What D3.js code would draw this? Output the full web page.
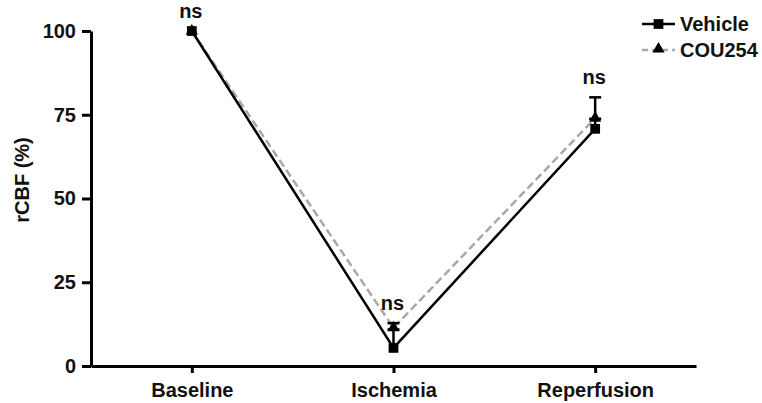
<!DOCTYPE html>
<html lang="en">
<head>
    <meta charset="UTF-8"/>
    <title>rCBF</title>
    <script src="https://d3js.org/d3.v7.min.js"></script>
    <style>
        body { margin: 0; background: #fff; }
        text { font-family: "Liberation Sans", Arial, sans-serif; font-weight: bold; }
    </style>
</head>
<body>
    <script>
        var categories = ["Baseline", "Ischemia", "Reperfusion"];
        var vehicle = [100, 5.4, 70.8];
        var vehicleErr = [0, 5.5, 3];
        var cou254 = [100, 11.4, 74];
        var cou254Err = [0, 1.4, 6.2];
        var sigLabels = ["ns", "ns", "ns"];
        var yTicks = [0, 25, 50, 75, 100];

        var w = 762;
        var h = 403;
        var plotLeft = 91, plotRight = 696, plotTop = 31, plotBottom = 366;
        var fontSize = "20px";

        var svg = d3.select("body")
            .append("svg")
            .attr("width", w)
            .attr("height", h);

        var xScale = d3.scalePoint()
            .domain(categories)
            .range([plotLeft, plotRight])
            .padding(0.5);

        var yScale = d3.scaleLinear()
            .domain([0, 100])
            .range([plotBottom, plotTop]);

        // axes
        svg.append("g")
            .attr("transform", "translate(" + plotLeft + ",0)")
            .call(d3.axisLeft(yScale).tickValues(yTicks).tickSize(9).tickSizeOuter(0).tickPadding(6));

        svg.append("g")
            .attr("transform", "translate(0," + plotBottom + ")")
            .call(d3.axisBottom(xScale).tickSize(7).tickSizeOuter(0).tickPadding(10));

        svg.selectAll(".domain, .tick line")
            .attr("stroke", "#000")
            .attr("stroke-width", 3);
        svg.selectAll(".tick text")
            .attr("font-size", fontSize)
            .attr("font-family", "'Liberation Sans', Arial, sans-serif")
            .attr("font-weight", "bold")
            .attr("fill", "#111");

        // y label
        svg.append("text")
            .attr("text-anchor", "middle")
            .attr("transform", "translate(29,180) rotate(-90)")
            .attr("font-size", fontSize)
            .attr("fill", "#111")
            .text("rCBF (%)");

        var line = d3.line()
            .x(function(d, i) { return xScale(categories[i]); })
            .y(function(d) { return yScale(d); });

        // COU254 dashed line
        svg.append("path")
            .datum(cou254)
            .attr("d", line)
            .attr("fill", "none")
            .attr("stroke", "#a8a8a8")
            .attr("stroke-width", 2.5)
            .attr("stroke-dasharray", "8,4");

        // Vehicle solid line
        svg.append("path")
            .datum(vehicle)
            .attr("d", line)
            .attr("fill", "none")
            .attr("stroke", "#000")
            .attr("stroke-width", 2.5);

        // error bars (upward)
        function errorBars(values, errs) {
            var g = svg.append("g");
            values.forEach(function(v, i) {
                if (!errs[i]) return;
                var x = xScale(categories[i]);
                g.append("line")
                    .attr("x1", x).attr("x2", x)
                    .attr("y1", yScale(v)).attr("y2", yScale(v + errs[i]))
                    .attr("stroke", "#000").attr("stroke-width", 2.5);
                g.append("line")
                    .attr("x1", x - 6).attr("x2", x + 6)
                    .attr("y1", yScale(v + errs[i])).attr("y2", yScale(v + errs[i]))
                    .attr("stroke", "#000").attr("stroke-width", 2.5);
            });
        }
        errorBars(vehicle, vehicleErr);
        errorBars(cou254, cou254Err);

        // markers
        var square = d3.symbol().type(d3.symbolSquare).size(95);
        var triangle = d3.symbol().type(d3.symbolTriangle).size(65);

        svg.selectAll(".sq")
            .data(vehicle)
            .enter()
            .append("path")
            .attr("class", "sq")
            .attr("d", square)
            .attr("transform", function(d, i) { return "translate(" + xScale(categories[i]) + "," + yScale(d) + ")"; })
            .attr("fill", "#000");

        svg.selectAll(".tri")
            .data(cou254)
            .enter()
            .append("path")
            .attr("class", "tri")
            .attr("d", triangle)
            .attr("transform", function(d, i) { return "translate(" + xScale(categories[i]) + "," + yScale(d) + ")"; })
            .attr("fill", "#000");

        // significance labels
        svg.selectAll(".sig")
            .data(sigLabels)
            .enter()
            .append("text")
            .attr("class", "sig")
            .attr("text-anchor", "middle")
            .attr("font-size", fontSize)
            .attr("fill", "#111")
            .attr("x", function(d, i) { return xScale(categories[i]) - 1; })
            .attr("y", function(d, i) {
                var topVal = Math.max(vehicle[i] + vehicleErr[i], cou254[i] + cou254Err[i]);
                return yScale(topVal) - 13;
            })
            .text(function(d) { return d; });

        // legend
        var legend = svg.append("g").attr("transform", "translate(642,0)");
        legend.append("line")
            .attr("x1", 0).attr("x2", 33).attr("y1", 24).attr("y2", 24)
            .attr("stroke", "#000").attr("stroke-width", 2.5);
        legend.append("path")
            .attr("d", square)
            .attr("transform", "translate(16.5,24)")
            .attr("fill", "#000");
        legend.append("text")
            .attr("x", 38).attr("y", 31)
            .attr("font-size", fontSize).attr("fill", "#111")
            .text("Vehicle");

        legend.append("line")
            .attr("x1", 0).attr("x2", 33).attr("y1", 50).attr("y2", 50)
            .attr("stroke", "#a8a8a8").attr("stroke-width", 2.5)
            .attr("stroke-dasharray", "6,4");
        legend.append("path")
            .attr("d", triangle)
            .attr("transform", "translate(16.5,49)")
            .attr("fill", "#000");
        legend.append("text")
            .attr("x", 38).attr("y", 57)
            .attr("font-size", fontSize).attr("fill", "#111")
            .text("COU254");
    </script>
</body>
</html>
